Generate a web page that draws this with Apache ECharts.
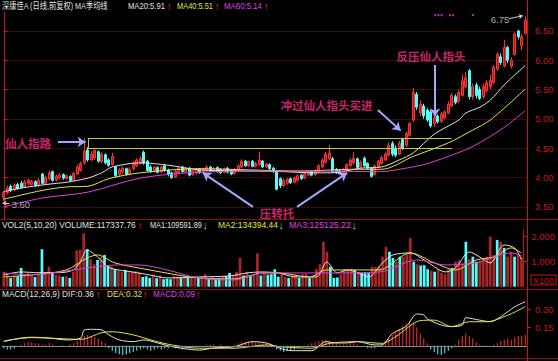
<!DOCTYPE html>
<html>
<head>
<meta charset="utf-8">
<script src="https://cdn.jsdelivr.net/npm/echarts@6.0.0/dist/echarts.min.js"></script>
<style>
html,body{margin:0;padding:0;background:#000;overflow:hidden;}
#chart{width:558px;height:361px;}
</style>
</head>
<body>
<div id="chart"></div>
<script>
// ---------- DATA ----------
// candles: [open, close, low, high]
const candles = [
[3.66,3.74,3.60,3.77],[3.74,3.82,3.71,3.86],[3.85,3.78,3.75,3.88],[3.79,3.87,3.76,3.90],[3.88,3.81,3.79,3.91],
[3.90,3.83,3.81,3.94],[3.84,3.92,3.82,3.96],[3.90,3.95,3.87,3.98],[3.88,3.93,3.86,3.96],[3.93,3.86,3.84,3.95],
[3.86,3.95,3.84,3.99],[4.06,3.90,3.88,4.08],[3.90,4.00,3.87,4.03],[3.98,4.08,3.95,4.12],[4.10,3.95,3.93,4.12],
[3.96,4.02,3.93,4.05],[4.00,4.04,3.97,4.07],[4.05,3.99,3.96,4.07],[3.98,4.03,3.96,4.05],[4.02,3.95,3.93,4.04],
[3.96,4.07,3.94,4.10],[4.06,4.18,4.04,4.22],[4.12,4.24,4.10,4.27],[4.25,4.45,4.22,4.67],[4.47,4.30,4.27,4.52],
[4.30,4.40,4.28,4.45],[4.33,4.46,4.30,4.50],[4.44,4.28,4.25,4.46],[4.27,4.40,4.24,4.43],[4.39,4.25,4.22,4.41],
[4.30,4.21,4.18,4.33],[4.22,4.36,4.20,4.42],[4.18,4.03,4.00,4.20],[4.05,4.13,4.02,4.16],[4.10,4.16,4.06,4.19],
[4.15,4.05,4.03,4.17],[4.06,4.14,4.04,4.17],[4.15,4.25,4.12,4.28],[4.20,4.30,4.18,4.33],[4.24,4.32,4.22,4.36],
[4.43,4.25,4.22,4.46],[4.28,4.12,4.10,4.30],[4.18,4.10,4.08,4.21],[4.11,4.17,4.08,4.20],[4.17,4.09,4.07,4.19],
[4.10,4.18,4.08,4.20],[4.20,4.12,4.10,4.22],[4.13,4.05,4.02,4.15],[4.08,4.00,3.98,4.10],[4.01,4.10,3.99,4.13],
[4.08,4.16,4.06,4.18],[4.18,4.10,4.08,4.20],[4.10,4.15,4.07,4.18],[4.16,4.04,4.02,4.18],[4.05,4.12,4.03,4.14],
[4.08,4.13,4.05,4.16],[4.14,4.08,4.06,4.16],[4.08,4.14,4.06,4.17],[4.12,4.18,4.10,4.21],[4.18,4.11,4.09,4.20],
[4.11,4.16,4.09,4.18],[4.17,4.10,4.08,4.19],[4.14,4.08,4.06,4.16],[4.09,4.15,4.07,4.17],[4.16,4.09,4.07,4.18],
[4.12,4.06,4.04,4.14],[4.07,4.14,4.05,4.16],[4.13,4.20,4.11,4.22],[4.18,4.28,4.16,4.31],[4.28,4.20,4.18,4.30],
[4.20,4.27,4.18,4.29],[4.28,4.19,4.17,4.30],[4.19,4.24,4.17,4.27],[4.22,4.30,4.20,4.44],[4.28,4.18,4.16,4.30],
[4.18,4.23,4.16,4.25],[4.22,4.15,4.13,4.24],[4.16,4.10,4.08,4.18],[4.10,3.80,3.78,4.12],[3.98,3.86,3.82,4.00],
[3.86,3.95,3.84,3.98],[3.90,3.97,3.88,3.99],[3.98,3.91,3.89,4.00],[3.92,3.99,3.90,4.02],[3.95,4.03,3.93,4.05],
[4.04,3.98,3.96,4.06],[3.99,4.07,3.97,4.09],[4.04,4.10,4.02,4.12],[4.10,4.04,4.02,4.12],[4.05,4.12,4.03,4.14],
[4.10,4.20,4.08,4.23],[4.18,4.30,4.16,4.33],[4.26,4.40,4.24,4.44],[4.32,4.42,4.30,4.55],[4.32,4.10,4.08,4.35],
[4.14,4.08,4.06,4.16],[4.12,4.07,4.05,4.14],[4.08,4.14,4.06,4.16],[4.12,4.22,4.10,4.24],[4.20,4.30,4.18,4.33],
[4.25,4.33,4.22,4.44],[4.32,4.17,4.15,4.34],[4.18,4.26,4.16,4.29],[4.33,4.20,4.18,4.36],[4.24,4.16,4.14,4.26],
[4.16,4.02,4.00,4.18],[4.05,4.20,4.03,4.22],[4.18,4.28,4.16,4.30],[4.24,4.34,4.22,4.37],[4.30,4.40,4.28,4.43],
[4.38,4.55,4.36,4.60],[4.58,4.40,4.36,4.62],[4.50,4.38,4.35,4.55],[4.40,4.58,4.38,4.62],[4.65,4.50,4.47,4.68],
[4.55,4.75,4.52,4.78],[4.72,4.92,4.70,4.95],[4.98,5.45,4.95,5.53],[5.42,5.20,5.15,5.46],[5.10,5.25,5.05,5.32],
[5.22,5.05,5.00,5.26],[5.15,4.98,4.95,5.18],[5.12,4.88,4.85,5.15],[4.92,5.02,4.86,5.06],[5.05,4.95,4.92,5.08],
[4.96,5.08,4.93,5.12],[5.02,5.12,4.99,5.15],[5.10,5.25,5.08,5.30],[5.22,5.40,5.20,5.44],[5.38,5.28,5.25,5.42],
[5.30,5.45,5.27,5.50],[5.40,5.65,5.38,5.75],[5.55,5.70,5.52,5.80],[5.82,5.38,5.33,5.85],[5.38,5.55,5.33,5.60],
[5.58,5.40,5.35,5.62],[5.50,5.35,5.32,5.55],[5.38,5.55,5.34,5.60],[5.48,5.62,5.45,5.66],[5.55,5.66,5.50,5.75],
[5.62,5.88,5.60,5.92],[5.85,6.10,5.82,6.14],[6.06,5.96,5.92,6.12],[5.90,6.22,5.88,6.35],[6.22,6.00,5.95,6.25],
[5.90,6.00,5.86,6.05],[6.10,6.45,6.08,6.48],[6.50,6.40,6.36,6.52],[6.25,6.40,6.17,6.45],[6.46,6.68,6.44,6.75]
];
const categories = candles.map((c, i) => String(i + 1));

// volume, in hundreds of shares (axis is X100)
const volumes = [
600,520,350,450,420,750,480,550,460,390,
500,1500,520,800,550,480,450,400,420,350,
600,1450,1480,2130,1500,1100,900,1070,1200,1270,
850,800,700,650,600,670,580,600,620,580,
390,420,350,480,340,450,300,320,300,420,
400,380,420,360,400,380,350,380,500,340,
380,330,350,400,420,550,480,600,1150,450,
600,450,500,1330,450,550,480,500,700,400,
500,400,350,450,480,350,500,520,350,450,
700,900,1800,1400,800,350,370,500,700,680,
720,670,600,550,550,540,800,780,820,1200,
1600,1400,1150,1000,1200,1200,1300,1950,1000,900,
850,860,700,650,600,700,550,500,700,750,
1000,1050,950,1800,1100,1200,1000,1050,1100,1200,
2000,1270,1870,1800,1550,1200,1400,1200,1300,1173.3776
];

// price moving averages, read at [candle index, value]
const ma20 = [[0,3.76],[5,3.82],[12,3.88],[18,3.92],[24,3.99],[28,4.08],[31,4.18],[39,4.25],[47,4.21],[56,4.13],[70,4.11],[80,4.10],[88,4.08],[94,4.08],[102,4.16],[108,4.18],[113,4.30],[117,4.42],[123,4.74],[130,4.98],[132,5.10],[136,5.20],[139,5.32],[143,5.58],[146,5.75],[149,5.91]];
const ma40 = [[0,3.63],[11,3.78],[18,3.84],[24,3.85],[30,3.98],[39,4.08],[56,4.15],[70,4.13],[85,4.11],[99,4.14],[108,4.14],[117,4.36],[127,4.59],[134,4.81],[139,4.98],[149,5.51]];
const ma60 = [[0,3.50],[11,3.65],[24,3.75],[39,3.99],[56,4.09],[85,4.11],[108,4.10],[113,4.14],[120,4.22],[127,4.36],[133,4.50],[139,4.70],[144,4.90],[149,5.14]];

// volume moving averages
const volMa5 = [[0,470],[5,590],[10,560],[16,560],[20,670],[22,990],[24,1470],[27,1190],[30,790],[33,670],[37,590],[42,470],[47,350],[56,390],[65,430],[70,550],[74,590],[79,550],[84,390],[90,390],[93,990],[96,550],[99,670],[102,550],[105,390],[109,950],[112,1270],[117,1350],[121,1070],[124,790],[127,590],[130,750],[134,1390],[137,1190],[140,950],[144,1670],[147,1550],[149,1095.9189]];
const volMa10 = [[0,390],[8,470],[18,670],[24,1150],[27,1270],[32,950],[42,670],[56,350],[66,310],[75,550],[79,550],[88,390],[93,670],[102,670],[108,670],[117,1350],[124,950],[130,670],[136,1070],[141,1190],[146,1550],[149,1343.9444]];
const volMa20 = [[0,550],[8,470],[18,630],[27,800],[33,870],[39,870],[47,670],[56,350],[66,270],[75,550],[85,550],[93,550],[108,590],[119,1070],[127,870],[136,950],[146,1350],[149,1251.2522]];

// MACD
const dif = [[0,0.034],[5,0.064],[8,0.07],[13,0.064],[18,0.048],[22,0.064],[23,0.13],[25,0.135],[28,0.13],[30,0.09],[33,0.048],[37,0.034],[40,0.048],[44,0.023],[48,-0.007],[56,-0.035],[60,-0.018],[66,-0.007],[71,0.034],[75,0.023],[79,-0.02],[82,-0.04],[88,-0.04],[92,0.034],[95,0.023],[98,0.023],[101,0.034],[106,0.007],[108,0.007],[111,0.10],[115,0.16],[118,0.26],[120,0.253],[121,0.22],[125,0.17],[128,0.157],[131,0.17],[132,0.23],[136,0.21],[139,0.197],[142,0.238],[146,0.32],[149,0.36]];
const dea = [[0,0.04],[8,0.067],[22,0.053],[28,0.107],[31,0.115],[37,0.089],[43,0.04],[48,0.007],[56,-0.02],[66,-0.02],[75,0.007],[79,-0.007],[88,-0.02],[93,0.02],[101,0.034],[108,0.02],[112,0.075],[119,0.206],[123,0.21],[128,0.157],[133,0.197],[138,0.197],[144,0.25],[149,0.32]];
const macdHist = [
-0.02,-0.03,-0.03,-0.02,-0.01, 0.01,0.02,0.03,0.03,0.02,
0.02,0.01,0.01,0.02,0.01, 0.00,-0.01,-0.01,0.00,0.01,
0.02,0.04,0.06,0.08,0.09, 0.08,0.07,0.06,0.04,0.02,
-0.02,-0.04,-0.06,-0.07,-0.075, -0.07,-0.06,-0.05,-0.04,-0.03,
-0.02,-0.03,-0.04,-0.03,-0.02, -0.03,-0.02,-0.02,-0.01,-0.02,
-0.02,-0.03,-0.02,-0.02,-0.01, -0.01,-0.01,0.00,0.01,0.01,
0.01,0.00,0.01,0.00,-0.01, 0.00,0.01,0.02,0.03,0.03,
0.03,0.04,0.03,0.03,0.02, 0.02,0.01,-0.01,-0.03,-0.04,
-0.05,-0.04,-0.04,-0.03,-0.02, -0.01,0.00,0.01,0.02,0.03,
0.04,0.045,0.045,0.04,0.03, 0.02,0.01,0.01,0.01,0.02,
0.02,0.01,0.00,-0.01,-0.02, -0.02,-0.02,-0.01,0.02,0.04,
0.06,0.09,0.11,0.14,0.16, 0.18,0.20,0.19,0.15,0.10,
0.06,0.02,-0.03,-0.05,-0.07, -0.075,-0.06,-0.04,-0.02,0.01,
0.05,0.08,0.10,0.08,0.06, 0.03,0.01,-0.01,-0.01,0.00,
0.01,0.02,0.04,0.05,0.06, 0.05,0.07,0.08,0.08,0.09
];

// axis tick labels
const priceTicks = [3.5,4.0,4.5,5.0,5.5,6.0,6.5];
const volTicks = [1000,2000];
const macdTicks = [0.15,0.30];

// annotations (in [candle index, price])
const boxLevels = [4.67, 4.50];
const boxSpan = [24, 128];
const noteTexts = [
  {name:'仙人指路', value:[6.9,4.59]},
  {name:'冲过仙人指头买进', value:[92.2,5.24]},
  {name:'反压仙人指头', value:[122.1,6.07]},
  {name:'压转托', value:[78.1,3.39]}
];
const notePointers = [
  [[15.5,4.606],[23.4,4.606]],
  [[106.9,5.15],[113.4,4.80]],
  [[123.2,5.92],[123.2,5.04]],
  [[71.2,3.50],[56.9,4.08]],
  [[83.8,3.50],[98.1,4.08]]
];
const extremeLabels = [
  {name:'6.75', value:[141.8,6.69]},
  {name:'3.60', value:[4.9,3.54]}
];
const extremePointers = [
  [[144.3,6.71],[148.3,6.76]],
  [[1.6,3.565],[-0.35,3.565]]
];
const signalMarks = [123.3,124.2,125.1,127.5,128.4,134.1];

// ---------- CHART ----------
const N = candles.length;
const FONT = "'Liberation Sans','Noto Sans CJK SC',sans-serif";
const CJK = "'Noto Sans CJK SC',sans-serif";
const RED = '#ff3232', CYAN = '#54fcfc', WHITE = '#e2e2e2', YELLOW = '#e4e444', MAGENTA = '#e040e0';
const AXRED = '#c41818', GRIDRED = '#3e0b0b', LAV = '#a6a6ff', PINK = '#ff2e8c';
const last = a => a[a.length - 1][1];

const volData = volumes.map((v, i) => ({
  value: v,
  itemStyle: { color: candles[i][1] >= candles[i][0] ? '#a82626' : CYAN }
}));
const histData = macdHist.map(v => ({ value: v, itemStyle: { color: v >= 0 ? RED : CYAN } }));

const measureCtx = document.createElement('canvas').getContext('2d');
const TFONT = '9.5px ' + FONT;
const AFONT = 'bold 11px ' + FONT;
measureCtx.font = TFONT;
// parts: [x, text, color, targetWidth(optional)]
function row(y, parts) {
  return parts.map(p => {
    const isArrow = !p[3];
    const w = measureCtx.measureText(p[1]).width;
    const sx = isArrow ? 0.8 : Math.min(1.2, p[3] / w);
    return {
      type: 'text', x: p[0], y: y + (isArrow ? 0.5 : 0), scaleX: sx, scaleY: 1,
      style: { text: p[1], fill: p[2], font: isArrow ? AFONT : TFONT, verticalAlign: 'middle' }
    };
  });
}
function lineLine(width, color, arrow) {
  return { type: 'lines', coordinateSystem: 'cartesian2d', xAxisIndex: 3, yAxisIndex: 0,
    polyline: false, symbol: arrow ? ['none', 'arrow'] : 'none', symbolSize: arrow || 0,
    lineStyle: { color: color, width: width, opacity: 1, curveness: 0 }, z: 6, silent: true };
}

const graphics = [].concat(
  row(6, [
    [2, '深康佳A (日线,前复权) MA季均线', WHITE, 106],
    [128, 'MA20:' + last(ma20).toFixed(2), WHITE, 37], [167, '↑', RED],
    [177, 'MA40:' + last(ma40).toFixed(2), YELLOW, 36], [215, '↑', RED],
    [224, 'MA60:' + last(ma60).toFixed(2), MAGENTA, 38], [264, '↑', RED]
  ]),
  row(225, [
    [2, 'VOL2(5,10,20) VOLUME:' + (volumes[N-1]*100).toFixed(2), WHITE, 134], [138, '↑', RED],
    [150, 'MA1:' + (last(volMa5)*100).toFixed(2), WHITE, 52], [203, '↓', CYAN],
    [218, 'MA2:' + (last(volMa10)*100).toFixed(2), YELLOW, 60], [279, '↓', CYAN],
    [289, 'MA3:' + (last(volMa20)*100).toFixed(2), MAGENTA, 62], [352, '↓', CYAN]
  ]),
  row(294, [
    [2, 'MACD(12,26,9) DIF:' + last(dif).toFixed(2), WHITE, 92], [96, '↑', RED],
    [107, 'DEA:' + last(dea).toFixed(2), YELLOW, 35], [143, '↑', RED],
    [153, 'MACD:' + macdHist[N-1].toFixed(2), MAGENTA, 42], [196, '↑', RED]
  ]),
  [
    { type: 'line', shape: { x1: 0, y1: 219.5, x2: 558, y2: 219.5 }, style: { stroke: '#8c1212', lineWidth: 1 } },
    { type: 'line', shape: { x1: 0, y1: 289.5, x2: 558, y2: 289.5 }, style: { stroke: '#8c1212', lineWidth: 1 } },
    { type: 'line', shape: { x1: 0, y1: 358.5, x2: 558, y2: 358.5 }, style: { stroke: '#8c1212', lineWidth: 1 } },
    { type: 'line', shape: { x1: 527.5, y1: 0, x2: 527.5, y2: 361 }, style: { stroke: AXRED, lineWidth: 1 } },
    { type: 'text', x: 531, y: 275, style: { text: 'X100', fill: AXRED, font: '9px ' + FONT,
      borderColor: AXRED, borderWidth: 1, padding: [1, 2, 0, 2] } }
  ]
);

const option = {
  backgroundColor: '#000000',
  animation: false,
  textStyle: { fontFamily: FONT },
  grid: [
    { left: 2, right: 31, top: 12, height: 207 },
    { left: 2, right: 31, top: 230, height: 56.7 },
    { left: 2, right: 31, top: 300, height: 58 }
  ],
  xAxis: [
    { type: 'category', gridIndex: 0, data: categories, show: false },
    { type: 'category', gridIndex: 1, data: categories, show: false },
    { type: 'category', gridIndex: 2, data: categories,
      axisLine: { onZero: false, lineStyle: { color: '#8c1212' } },
      axisTick: { inside: true, interval: 4, length: 3, lineStyle: { color: AXRED } },
      axisLabel: { show: false }, splitLine: { show: false } },
    { type: 'value', gridIndex: 0, min: -0.5, max: N - 0.5, show: false }
  ],
  yAxis: [
    { type: 'value', gridIndex: 0, position: 'right', min: 3.292, max: 6.824,
      axisLine: { show: true, lineStyle: { color: AXRED } },
      axisTick: { show: true, customValues: priceTicks, length: 4, lineStyle: { color: AXRED } },
      axisLabel: { customValues: priceTicks, formatter: v => v.toFixed(2), color: AXRED, fontSize: 9.5, margin: 8, fontFamily: FONT },
      splitLine: { show: true, lineStyle: { color: GRIDRED } } },
    { type: 'value', gridIndex: 1, position: 'right', min: 0, max: 2268,
      axisLine: { show: true, lineStyle: { color: AXRED } },
      axisTick: { show: true, customValues: volTicks, length: 4, lineStyle: { color: AXRED } },
      axisLabel: { customValues: volTicks, color: AXRED, fontSize: 9.5, margin: 8, fontFamily: FONT },
      splitLine: { show: false } },
    { type: 'value', gridIndex: 2, position: 'right', min: -0.1, max: 0.375,
      axisLine: { show: true, lineStyle: { color: AXRED } },
      axisTick: { show: true, customValues: macdTicks, length: 4, lineStyle: { color: AXRED } },
      axisLabel: { customValues: macdTicks, formatter: v => v.toFixed(2), color: AXRED, fontSize: 9.5, margin: 8, fontFamily: FONT },
      splitLine: { show: false } }
  ],
  graphic: graphics,
  series: [
    { type: 'candlestick', xAxisIndex: 0, yAxisIndex: 0, data: candles, barWidth: '70%',
      itemStyle: { color: '#a81e1e', color0: CYAN, borderColor: RED, borderColor0: CYAN, borderWidth: 1 }, z: 3 },
    { type: 'line', xAxisIndex: 0, yAxisIndex: 0, data: ma20, showSymbol: false, smooth: 0.3,
      lineStyle: { color: WHITE, width: 1 }, z: 4 },
    { type: 'line', xAxisIndex: 0, yAxisIndex: 0, data: ma40, showSymbol: false, smooth: 0.3,
      lineStyle: { color: YELLOW, width: 1 }, z: 4 },
    { type: 'line', xAxisIndex: 0, yAxisIndex: 0, data: ma60, showSymbol: false, smooth: 0.3,
      lineStyle: { color: MAGENTA, width: 1 }, z: 4 },
    Object.assign(lineLine(1, '#c8c840', 0), {
      data: [
        { coords: [[boxSpan[0], boxLevels[0]], [boxSpan[1], boxLevels[0]]] },
        { coords: [[boxSpan[0], boxLevels[1]], [boxSpan[1], boxLevels[1]]] },
        { coords: [[boxSpan[0], boxLevels[1]], [boxSpan[0], boxLevels[0]]] }
      ] }),
    Object.assign(lineLine(2, LAV, 8), { data: notePointers.map(c => ({ coords: c })) }),
    Object.assign(lineLine(1, '#d0d0d0', 4), { data: extremePointers.map(c => ({ coords: c })) }),
    { type: 'scatter', xAxisIndex: 3, yAxisIndex: 0, data: noteTexts, symbolSize: 1,
      itemStyle: { color: 'rgba(0,0,0,0)' }, z: 7, silent: true,
      label: { show: true, position: 'inside', formatter: '{b}', color: PINK, fontSize: 11.5,
        fontWeight: 'bold', fontFamily: CJK } },
    { type: 'scatter', xAxisIndex: 3, yAxisIndex: 0, data: extremeLabels, symbolSize: 1,
      itemStyle: { color: 'rgba(0,0,0,0)' }, z: 7, silent: true,
      label: { show: true, position: 'inside', formatter: '{b}', color: '#d8d8d8', fontSize: 9.5, fontFamily: FONT } },
    { type: 'scatter', xAxisIndex: 3, yAxisIndex: 0, data: signalMarks.map(i => [i, 6.77]),
      symbol: 'rect', symbolSize: [2, 2], itemStyle: { color: MAGENTA }, z: 7, silent: true },
    { type: 'bar', xAxisIndex: 1, yAxisIndex: 1, data: volData, barWidth: '78%', z: 3 },
    { type: 'line', xAxisIndex: 1, yAxisIndex: 1, data: volMa5, showSymbol: false, smooth: 0.3,
      lineStyle: { color: WHITE, width: 1 }, z: 4 },
    { type: 'line', xAxisIndex: 1, yAxisIndex: 1, data: volMa10, showSymbol: false, smooth: 0.3,
      lineStyle: { color: YELLOW, width: 1 }, z: 4 },
    { type: 'line', xAxisIndex: 1, yAxisIndex: 1, data: volMa20, showSymbol: false, smooth: 0.3,
      lineStyle: { color: MAGENTA, width: 1 }, z: 4 },
    { type: 'bar', xAxisIndex: 2, yAxisIndex: 2, data: histData, barWidth: 1, z: 3,
      markLine: { silent: true, symbol: 'none', label: { show: false },
        lineStyle: { color: '#8a8a8a', width: 1, type: 'solid' }, data: [{ yAxis: 0 }] } },
    { type: 'line', xAxisIndex: 2, yAxisIndex: 2, data: dif, showSymbol: false, smooth: 0.3,
      lineStyle: { color: WHITE, width: 1 }, z: 4 },
    { type: 'line', xAxisIndex: 2, yAxisIndex: 2, data: dea, showSymbol: false, smooth: 0.3,
      lineStyle: { color: YELLOW, width: 1 }, z: 4 }
  ]
};

const chart = echarts.init(document.getElementById('chart'), null, { renderer: 'svg' });
chart.setOption(option);
</script>
</body>
</html>
